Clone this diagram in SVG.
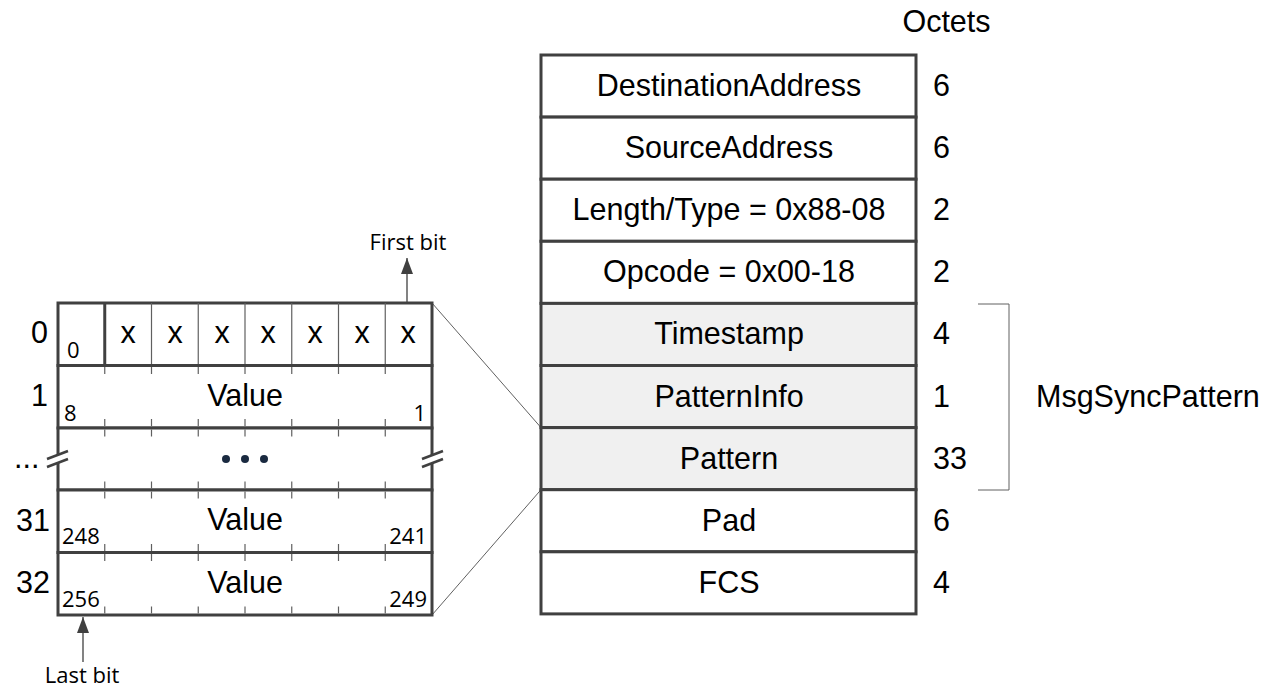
<svg xmlns="http://www.w3.org/2000/svg" width="1265" height="689" viewBox="0 0 1265 689">
<style>
.t{font-family:"Liberation Sans",Arial,sans-serif;font-size:30.5px;fill:#000}
.c{text-anchor:middle}
.s{font-family:"Open Sans","Noto Sans",sans-serif;font-size:22px;fill:#000}
.box{fill:#fff;stroke:#404040;stroke-width:3}
.gray{fill:#f0f0f0;stroke:#404040;stroke-width:3}
.thin{stroke:#606060;stroke-width:1.2;fill:none}
.tick{stroke:#606060;stroke-width:1.2}
.conn{stroke:#606060;stroke-width:1;fill:none}
</style>
<defs>
<marker id="ah" markerWidth="16" markerHeight="12" refX="16" refY="6" orient="auto" markerUnits="userSpaceOnUse" viewBox="0 0 16 12">
<path d="M0,0 L16,6 L0,12 Z" fill="#404040"/>
</marker>
</defs>
<rect width="1265" height="689" fill="#fff"/>

<g id="connectors">
<line class="conn" x1="432" y1="303" x2="541" y2="427.6"/>
<line class="conn" x1="432" y1="615" x2="541" y2="489.7"/>
<polyline class="conn" points="978,304 1009,304 1009,490 978,490" stroke="#888"/>
<line x1="407" y1="303" x2="407" y2="258" stroke="#404040" stroke-width="1.3" marker-end="url(#ah)"/>
<line x1="83" y1="662" x2="83" y2="617" stroke="#404040" stroke-width="1.3" marker-end="url(#ah)"/>
</g>

<text class="t c" x="946.5" y="32">Octets</text>

<g id="frame">
<g id="dest"><rect class="box" x="541" y="55" width="375" height="62.1"/><text class="t c" x="729" y="96">DestinationAddress</text><text class="t" x="933" y="96">6</text></g>
<g id="src"><rect class="box" x="541" y="117.1" width="375" height="62.1"/><text class="t c" x="729" y="158">SourceAddress</text><text class="t" x="933" y="158">6</text></g>
<g id="lentype"><rect class="box" x="541" y="179.2" width="375" height="62.1"/><text class="t c" x="729" y="220">Length/Type = 0x88-08</text><text class="t" x="933" y="220">2</text></g>
<g id="opcode"><rect class="box" x="541" y="241.3" width="375" height="62.1"/><text class="t c" x="729" y="282">Opcode = 0x00-18</text><text class="t" x="933" y="282">2</text></g>
<g id="timestamp"><rect class="gray" x="541" y="303.4" width="375" height="62.1"/><text class="t c" x="729" y="344">Timestamp</text><text class="t" x="933" y="344">4</text></g>
<g id="patterninfo"><rect class="gray" x="541" y="365.5" width="375" height="62.1"/><text class="t c" x="729" y="407">PatternInfo</text><text class="t" x="933" y="407">1</text></g>
<g id="pattern"><rect class="gray" x="541" y="427.6" width="375" height="62.1"/><text class="t c" x="729" y="469">Pattern</text><text class="t" x="933" y="469">33</text></g>
<g id="pad"><rect class="box" x="541" y="489.7" width="375" height="62.1"/><text class="t c" x="729" y="531">Pad</text><text class="t" x="933" y="531">6</text></g>
<g id="fcs"><rect class="box" x="541" y="551.8" width="375" height="62.1"/><text class="t c" x="729" y="593">FCS</text><text class="t" x="933" y="593">4</text></g>
</g>

<g id="msgsync"><text class="t" x="1036" y="407">MsgSyncPattern</text></g>

<g id="pattern-detail">
<g id="row0">
<rect class="box" x="58" y="303" width="374" height="62.5"/>
<line class="thin" x1="151.5" y1="303" x2="151.5" y2="365.5"/>
<line class="thin" x1="198.25" y1="303" x2="198.25" y2="365.5"/>
<line class="thin" x1="245" y1="303" x2="245" y2="365.5"/>
<line class="thin" x1="291.75" y1="303" x2="291.75" y2="365.5"/>
<line class="thin" x1="338.5" y1="303" x2="338.5" y2="365.5"/>
<line class="thin" x1="385.25" y1="303" x2="385.25" y2="365.5"/>
<line x1="104.75" y1="303" x2="104.75" y2="365.5" stroke="#404040" stroke-width="3"/>
<text class="t" x="31" y="343">0</text>
<text class="s" x="67" y="358">0</text>
<text class="t c" x="128" y="343">x</text>
<text class="t c" x="175" y="343">x</text>
<text class="t c" x="222" y="343">x</text>
<text class="t c" x="268" y="343">x</text>
<text class="t c" x="315" y="343">x</text>
<text class="t c" x="362" y="343">x</text>
<text class="t c" x="408" y="343">x</text>
</g>
<g id="row1">
<rect class="box" x="58" y="365.5" width="374" height="62.5"/>
<text class="t" x="31" y="406">1</text>
<text class="t c" x="245" y="406">Value</text>
<text class="s" x="64" y="421">8</text>
<text class="s" x="426" y="421" text-anchor="end">1</text>
</g>
<g id="rowdots">
<rect class="box" x="58" y="428" width="374" height="62"/>
<text class="t" x="14" y="468">...</text>
<circle cx="226" cy="459" r="4" fill="#1a2a40"/>
<circle cx="245" cy="459" r="4" fill="#1a2a40"/>
<circle cx="264" cy="459" r="4" fill="#1a2a40"/>
<polygon points="47,459 68,451 68,459 47,467" fill="#fff"/>
<line x1="47" y1="459" x2="68" y2="451" stroke="#404040" stroke-width="2.5"/>
<line x1="47" y1="467" x2="68" y2="459" stroke="#404040" stroke-width="2.5"/>
<polygon points="422,459 443,451 443,459 422,467" fill="#fff"/>
<line x1="422" y1="459" x2="443" y2="451" stroke="#404040" stroke-width="2.5"/>
<line x1="422" y1="467" x2="443" y2="459" stroke="#404040" stroke-width="2.5"/>
</g>
<g id="row31">
<rect class="box" x="58" y="490" width="374" height="62.5"/>
<text class="t" x="16" y="531">31</text>
<text class="t c" x="245" y="530">Value</text>
<text class="s" x="62" y="544">248</text>
<text class="s" x="427" y="544" text-anchor="end">241</text>
</g>
<g id="row32">
<rect class="box" x="58" y="552.5" width="374" height="62.5"/>
<text class="t" x="16" y="593">32</text>
<text class="t c" x="245" y="593">Value</text>
<text class="s" x="62" y="607">256</text>
<text class="s" x="427" y="607" text-anchor="end">249</text>
</g>
<g id="ticks">
<path class="tick" d="M104.75,367v7M151.5,367v7M198.25,367v7M245,367v7M291.75,367v7M338.5,367v7M385.25,367v7
M104.75,426v-7M151.5,426v-7M198.25,426v-7M245,426v-7M291.75,426v-7M338.5,426v-7M385.25,426v-7
M104.75,429.5v7M151.5,429.5v7M198.25,429.5v7M245,429.5v7M291.75,429.5v7M338.5,429.5v7M385.25,429.5v7
M104.75,488.5v-7M151.5,488.5v-7M198.25,488.5v-7M245,488.5v-7M291.75,488.5v-7M338.5,488.5v-7M385.25,488.5v-7
M104.75,491.5v7M151.5,491.5v7M198.25,491.5v7M245,491.5v7M291.75,491.5v7M338.5,491.5v7M385.25,491.5v7
M104.75,551v-7M151.5,551v-7M198.25,551v-7M245,551v-7M291.75,551v-7M338.5,551v-7M385.25,551v-7
M104.75,554v7M151.5,554v7M198.25,554v7M245,554v7M291.75,554v7M338.5,554v7M385.25,554v7
M104.75,613.5v-7M151.5,613.5v-7M198.25,613.5v-7M245,613.5v-7M291.75,613.5v-7M338.5,613.5v-7M385.25,613.5v-7"/>
</g>
<text class="s c" x="408" y="250">First bit</text>
<text class="s c" x="82" y="683">Last bit</text>
</g>
</svg>
